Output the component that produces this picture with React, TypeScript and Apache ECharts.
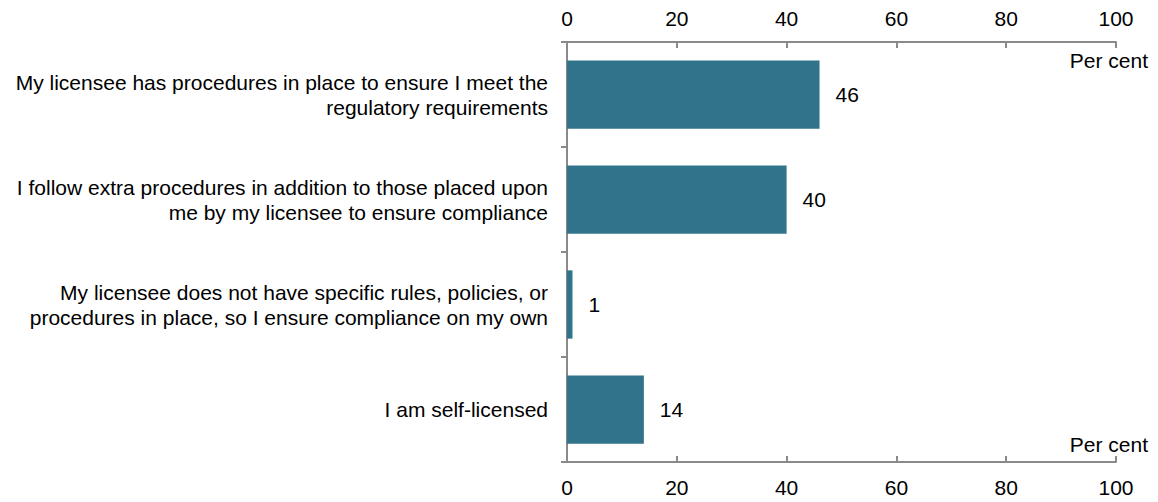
import React, { useEffect, useRef } from "react";
import * as echarts from "echarts";

const categories = [
  "My licensee has procedures in place to ensure I meet the\nregulatory requirements",
  "I follow extra procedures in addition to those placed upon\nme by my licensee to ensure compliance",
  "My licensee does not have specific rules, policies, or\nprocedures in place, so I ensure compliance on my own",
  "I am self-licensed",
];
const values = [46, 40, 1, 14];
const unitLabel = "Per cent";

const FONT = "'Liberation Sans', Arial, sans-serif";
const FS = 21;
const AXIS_COLOR = "#8a8a8a";
const BAR_COLOR = "#31738b";

export default function App() {
  const ref = useRef<HTMLDivElement>(null);
  useEffect(() => {
    document.body.style.margin = "0";
    const chart = echarts.init(ref.current!, null, { renderer: "svg" });
    const xAxisBase = {
      type: "value" as const,
      min: 0,
      max: 100,
      interval: 20,
      axisLine: { show: true, lineStyle: { color: AXIS_COLOR, width: 2 } },
      axisTick: { show: true, inside: true, length: 6, lineStyle: { color: AXIS_COLOR, width: 2 } },
      splitLine: { show: false },
    };
    chart.setOption({
      animation: false,
      grid: { left: 567, right: 42, top: 42, bottom: 40, containLabel: false },
      xAxis: [
        {
          ...xAxisBase,
          position: "top",
          axisLabel: { color: "#000", fontSize: FS, fontFamily: FONT, margin: 13 },
        },
        {
          ...xAxisBase,
          position: "bottom",
          axisLabel: { color: "#000", fontSize: FS, fontFamily: FONT, margin: 15 },
        },
      ],
      yAxis: {
        type: "category",
        inverse: true,
        data: categories,
        axisLine: { show: true, lineStyle: { color: AXIS_COLOR, width: 2 } },
        axisTick: { show: true, inside: false, length: 6, lineStyle: { color: AXIS_COLOR, width: 2 } },
        axisLabel: {
          color: "#000",
          fontSize: FS,
          fontFamily: FONT,
          margin: 19,
          lineHeight: 25,
          align: "right",
        },
      },
      series: [
        {
          type: "bar",
          data: values,
          xAxisIndex: 0,
          barCategoryGap: "35%",
          itemStyle: { color: BAR_COLOR },
          label: {
            show: true,
            position: "right",
            distance: 16,
            color: "#000",
            fontSize: FS,
            fontFamily: FONT,
          },
        },
      ],
      graphic: [
        {
          type: "text",
          right: 10,
          top: 50,
          style: { text: unitLabel, fill: "#000", fontSize: FS, fontFamily: FONT },
        },
        {
          type: "text",
          right: 10,
          top: 434,
          style: { text: unitLabel, fill: "#000", fontSize: FS, fontFamily: FONT },
        },
      ],
    });
    return () => chart.dispose();
  }, []);
  return <div ref={ref} style={{ width: 1158, height: 502 }} />;
}
